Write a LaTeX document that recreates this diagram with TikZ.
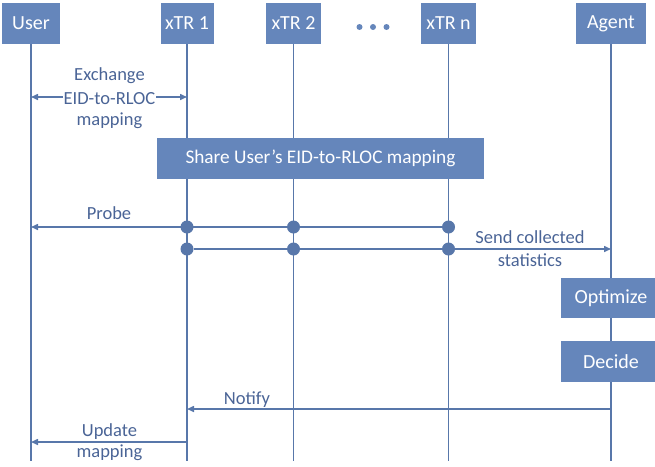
\documentclass[tikz,border=0pt]{standalone}
\usepackage{fontspec}
\setmainfont{Carlito}
\usetikzlibrary{arrows.meta}
\definecolor{boxblue}{RGB}{101,134,187}
\definecolor{lineblue}{RGB}{88,119,170}
\definecolor{txtblue}{RGB}{74,100,150}
\begin{document}
\begin{tikzpicture}[x=1pt,y=-1pt,
  hdr/.style={fill=boxblue, text=white, minimum height=41pt, inner sep=0pt, font=\fontsize{20}{24}\selectfont},
  life/.style={draw=lineblue, line width=1.5pt},
  tip/.tip={Triangle[length=7pt,width=6pt]},
  msg/.style={life, -tip},
  lbl/.style={text=txtblue, font=\fontsize{18.5}{22.5}\selectfont, inner sep=1pt, anchor=base},
  dotnode/.style={circle, fill=lineblue, minimum size=13pt, inner sep=0pt}]
\useasboundingbox (0,0) rectangle (655,466);
\clip (0,0) rectangle (655,466);

% headers
\node[hdr, minimum width=58pt] (user) at (31,23.5) {User};
\node[hdr, minimum width=53pt] (x1) at (187,23.5) {xTR 1};
\node[hdr, minimum width=55pt] (x2) at (293.5,23.5) {xTR 2};
\node[hdr, minimum width=55pt] (xn) at (448.5,23.5) {xTR n};
\node[hdr, minimum width=70pt] (agent) at (611,23.5) {Agent};
\foreach \xx in {359.5,373,386.5} \fill[boxblue] (\xx,27) circle (3pt);

% rows
\coordinate (bot) at (0,461);
\coordinate (rEx) at (0,97);
\coordinate (rPr) at (0,227);
\coordinate (rSe) at (0,249);
\coordinate (rNo) at (0,409);
\coordinate (rUp) at (0,442);

% lifelines
\foreach \n in {user,x1,x2,xn,agent} \draw[life] (\n.south) -- (\n |- bot);

% exchange
\draw[life, tip-tip] (user |- rEx) -- (x1 |- rEx);
\node[lbl, fill=white] (exm) at (109.5,104) {EID-to-RLOC};
\node[lbl] (ext) at (109.5,80) {Exchange};
\node[lbl] (exb) at (109.5,125) {mapping};

% share box
\node[hdr, minimum width=327pt, font=\fontsize{19.3}{23}\selectfont] (share) at (320.5,158.5) {Share User’s EID-to-RLOC mapping};

% probe
\node[dotnode] (p1) at (x1 |- rPr) {};
\node[dotnode] (p2) at (x2 |- rPr) {};
\node[dotnode] (pn) at (xn |- rPr) {};
\draw[msg] (pn) -- (user |- rPr);
\node[lbl] (probe) at (109,219) {Probe};

% send statistics
\node[dotnode] (s1) at (x1 |- rSe) {};
\node[dotnode] (s2) at (x2 |- rSe) {};
\node[dotnode] (sn) at (xn |- rSe) {};
\draw[msg] (s1) -- (agent |- rSe);
\node[lbl] (sendA) at (530,243) {Send collected};
\node[lbl] (sendB) at (530,266) {statistics};

% agent actions
\node[hdr, minimum width=100pt, minimum height=40pt] (opt) at (611,298) {Optimize};
\node[hdr, minimum width=100pt] (dec) at (611,361.5) {Decide};

% notify
\draw[msg] (agent |- rNo) -- (x1 |- rNo);
\node[lbl] (notify) at (247,404) {Notify};

% update
\draw[msg] (x1 |- rUp) -- (user |- rUp);
\node[lbl] (updA) at (109.5,436) {Update};
\node[lbl] (updB) at (109.5,457) {mapping};
\end{tikzpicture}
\end{document}
